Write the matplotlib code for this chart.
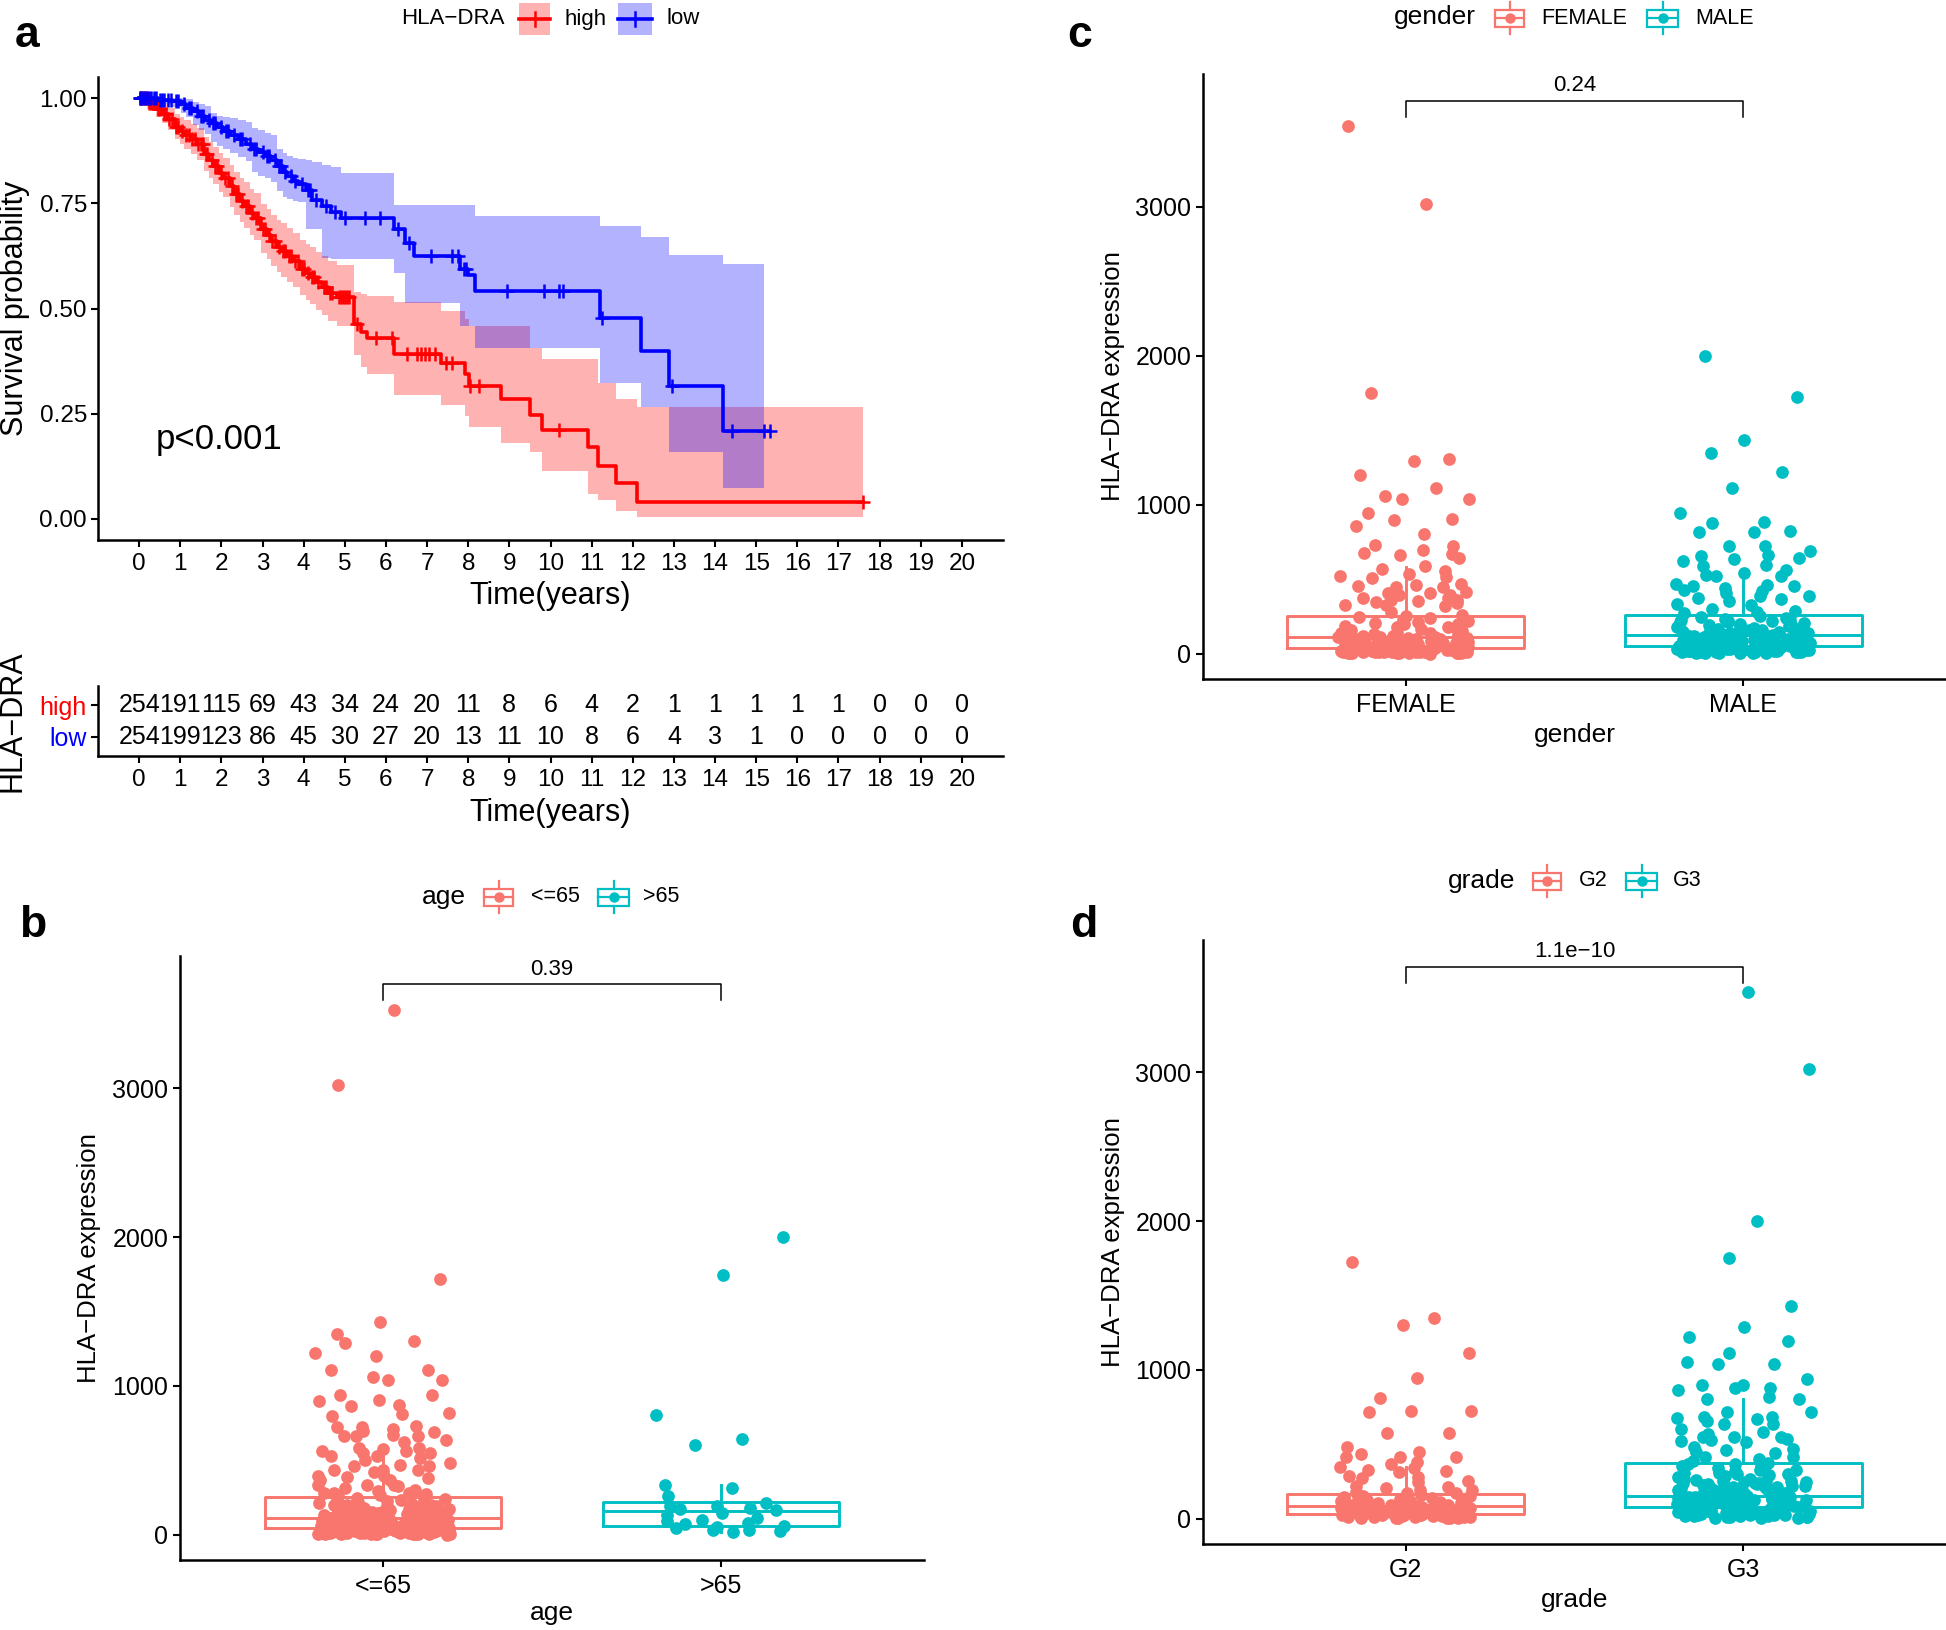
import numpy as np
import matplotlib
matplotlib.use("Agg")
import matplotlib.pyplot as plt
from matplotlib.patches import Rectangle

plt.rcParams["font.family"] = ["Liberation Sans", "DejaVu Sans"]

W, H = 1946, 1630
RED, BLUE = "#FF0000", "#0000FF"
SALMON, TEAL = "#F8766D", "#00BFC4"

# ---------------- panel a: Kaplan-Meier, HLA-DRA high / low ----------------
high_time = [0, 0.2, 0.4, 0.55, 0.7, 0.87, 1.0, 1.1, 1.25, 1.4, 1.57, 1.7,
             1.8, 1.95, 2.05, 2.2, 2.3, 2.45, 2.55, 2.7, 2.8, 2.97, 3.1, 3.2,
             3.35, 3.45, 3.6, 3.75, 3.9, 4.05, 4.15, 4.3, 4.45, 4.6, 4.8, 5.22,
             5.4, 5.53, 6.2, 7.35, 7.93, 8.02, 8.79, 9.49, 9.8, 10.9, 11.16, 11.6, 12.1]
high_surv = [1.0, 0.988, 0.974, 0.962, 0.950, 0.932, 0.922, 0.913, 0.902, 0.89, 0.866, 0.853,
             0.838, 0.822, 0.81, 0.79, 0.772, 0.756, 0.744, 0.728, 0.716, 0.688, 0.675, 0.66,
             0.645, 0.636, 0.625, 0.612, 0.594, 0.584, 0.575, 0.562, 0.552, 0.538, 0.528, 0.462,
             0.445, 0.43, 0.392, 0.37, 0.345, 0.317, 0.284, 0.247, 0.211, 0.172, 0.125, 0.085, 0.04]
high_ci_lo = [1.0, 0.975, 0.955, 0.94, 0.925, 0.903, 0.89, 0.879, 0.866, 0.852, 0.826, 0.811,
              0.795, 0.777, 0.764, 0.742, 0.722, 0.705, 0.692, 0.675, 0.662, 0.632, 0.618, 0.602,
              0.586, 0.576, 0.564, 0.55, 0.531, 0.52, 0.51, 0.496, 0.485, 0.47, 0.458, 0.39,
              0.36, 0.345, 0.295, 0.27, 0.245, 0.218, 0.18, 0.16, 0.115, 0.06, 0.045, 0.02, 0.004]
high_ci_up = [1.0, 1.0, 0.993, 0.985, 0.977, 0.962, 0.954, 0.947, 0.938, 0.928, 0.907, 0.895,
              0.884, 0.869, 0.858, 0.84, 0.824, 0.81, 0.8, 0.785, 0.774, 0.749, 0.737, 0.723,
              0.71, 0.702, 0.692, 0.68, 0.663, 0.654, 0.646, 0.634, 0.625, 0.612, 0.603, 0.54,
              0.535, 0.53, 0.515, 0.495, 0.475, 0.458, 0.458, 0.406, 0.38, 0.38, 0.322, 0.284, 0.267]
high_end = 17.6
high_band_end = 17.6
high_cens = [0.02, 0.05, 0.08, 0.12, 0.15, 0.18, 0.25, 0.3, 0.33, 0.38, 0.45, 0.5, 0.6, 0.65,
             0.72, 0.8, 0.9, 0.95, 1.05, 1.15, 1.2, 1.28, 1.35, 1.42, 1.5, 1.55, 1.62, 1.65,
             1.78, 1.85, 1.9, 2.0, 2.08, 2.15, 2.25, 2.35, 2.4, 2.5, 2.6, 2.65, 2.75, 2.85,
             2.9, 3.0, 3.05, 3.15, 3.22, 3.3, 3.4, 3.5, 3.55, 3.65, 3.7, 3.8, 3.85, 3.95,
             4.0, 4.1, 4.2, 4.25, 4.35, 4.5, 4.55, 4.65, 4.7, 4.85, 4.9, 4.95, 5.0, 5.05,
             5.1, 5.3, 5.75, 6.15, 6.5, 6.75, 6.85, 6.95, 7.05, 7.2, 7.45, 7.6, 8.05, 8.25,
             10.2, 17.6]

low_time = [0, 0.45, 0.8, 1.02, 1.15, 1.3, 1.45, 1.6, 1.75, 1.9, 2.05, 2.2,
            2.4, 2.6, 2.75, 2.9, 3.05, 3.2, 3.35, 3.5, 3.6, 3.75, 3.85, 4.05,
            4.2, 4.44, 4.67, 4.91, 6.2, 6.46, 6.69, 7.81, 8.0, 8.17, 11.2, 12.2,
            12.87, 14.19]
low_surv = [1.0, 0.995, 0.992, 0.986, 0.977, 0.969, 0.958, 0.948, 0.941, 0.932, 0.922, 0.913,
            0.903, 0.892, 0.88, 0.871, 0.862, 0.852, 0.838, 0.824, 0.814, 0.802, 0.795, 0.781,
            0.758, 0.744, 0.730, 0.716, 0.688, 0.655, 0.624, 0.594, 0.580, 0.542, 0.477, 0.399,
            0.317, 0.209]
low_ci_lo = [1.0, 0.985, 0.978, 0.965, 0.955, 0.935, 0.925, 0.915, 0.895, 0.885, 0.878, 0.87,
             0.86, 0.85, 0.825, 0.815, 0.81, 0.8, 0.78, 0.765, 0.76, 0.755, 0.753, 0.69,
             0.688, 0.62, 0.617, 0.617, 0.584, 0.514, 0.514, 0.458, 0.458, 0.406, 0.322, 0.267,
             0.159, 0.073]
low_ci_up = [1.0, 1.0, 1.0, 1.0, 0.998, 0.99, 0.985, 0.98, 0.965, 0.958, 0.955, 0.952,
             0.948, 0.942, 0.93, 0.925, 0.918, 0.912, 0.88, 0.87, 0.862, 0.858, 0.855, 0.852,
             0.848, 0.84, 0.836, 0.821, 0.746, 0.746, 0.746, 0.746, 0.746, 0.72, 0.697, 0.669,
             0.628, 0.605]
low_end = 15.34
low_band_end = 15.19
low_cens = [0.02, 0.05, 0.1, 0.15, 0.2, 0.25, 0.3, 0.35, 0.42, 0.5, 0.55, 0.6, 0.7, 0.78,
            0.9, 0.95, 1.1, 1.2, 1.25, 1.4, 1.5, 1.55, 1.7, 1.8, 1.85, 2.0, 2.1, 2.15, 2.3,
            2.45, 2.5, 2.7, 2.8, 2.85, 3.0, 3.1, 3.15, 3.3, 3.4, 3.45, 3.55, 3.7, 3.8, 3.95,
            4.1, 4.15, 4.3, 4.55, 4.75, 5.0, 5.5, 5.85, 6.3, 6.55, 7.1, 7.6, 7.75, 7.9, 7.95,
            8.95, 9.83, 10.2, 10.3, 11.25, 12.95, 14.4, 15.2, 15.34]

risk_years = [0, 1, 2, 3, 4, 5, 6, 7, 8, 9, 10, 11, 12, 13, 14, 15, 16, 17, 18, 19, 20]
risk_high = [254, 191, 115, 69, 43, 34, 24, 20, 11, 8, 6, 4, 2, 1, 1, 1, 1, 1, 0, 0, 0]
risk_low = [254, 199, 123, 86, 45, 30, 27, 20, 13, 11, 10, 8, 6, 4, 3, 1, 0, 0, 0, 0, 0]

# ---------------- panel c: gender ----------------
gender_cats = ["FEMALE", "MALE"]
female_expr = [3540, 3020, 1750, 1306, 1290, 1201, 1112, 1056, 1038, 1036, 944, 906, 899, 859,
               803, 727, 720, 694, 676, 669, 664, 642, 586, 568, 553, 537, 519, 512, 508, 470,
               463, 452, 450, 447, 412, 407, 407, 396, 391, 374, 374, 362, 362, 351, 344, 340,
               329, 329, 318, 280, 262,
               251, 243, 238, 229, 222, 214, 207, 201, 196, 188, 181, 176, 169, 163, 158, 151,
               147, 141, 136, 130, 126, 121, 117, 113, 110, 106, 102, 99, 96, 93, 89, 86, 83,
               80, 77, 74, 71, 68, 66, 63, 60, 57, 54, 52, 49, 47, 44, 42, 40, 38, 36, 34, 32,
               30, 28, 27, 25, 23, 21, 20, 18, 16, 15, 13, 12, 10, 9, 8, 6, 5, 4, 3, 2, 1, 74,
               58, 41, 29, 17, 11, 124, 97, 85, 66, 48, 35, 22, 14, 7, 3,
               3, 6, 9, 12, 14, 19, 24, 26, 31, 33, 37, 43, 46, 51, 55, 59, 62, 65, 69, 72,
               76, 81, 84, 88, 91, 94, 98, 104, 108, 111]
male_expr = [2000, 1723, 1432, 1347, 1219, 1110, 944, 881, 877, 826, 814, 814, 720, 720, 687,
             660, 653, 642, 635, 624, 597, 586, 564, 541, 530, 523, 519, 470, 459, 452, 452,
             441, 430, 418, 407, 385, 385, 374, 369, 351, 336, 329, 300, 284, 277, 273, 228,
             217, 210,
             256, 247, 241, 233, 226, 219, 212, 205, 199, 193, 187, 182, 176, 171, 165, 160,
             155, 150, 146, 141, 137, 133, 129, 126, 122, 119, 116, 112, 109, 106, 103, 100,
             97, 94, 91, 88, 85, 82, 79, 76, 74, 71, 68, 66, 63, 61, 58, 56, 53, 51, 49, 46,
             44, 42, 40, 38, 36, 34, 32, 30, 28, 26, 24, 22, 20, 18, 16, 14, 12, 10, 8, 6, 4,
             2, 135, 118, 95, 72, 57, 43, 31, 19, 9, 188, 162, 144, 128, 111, 92, 81, 67, 52,
             39, 27, 15, 5, 173, 152, 104, 60, 35, 11,
             4, 7, 13, 17, 21, 25, 29, 33, 37, 41, 45, 50, 54, 59, 64, 69, 73, 77, 83, 87,
             93, 98, 102, 108, 114, 121, 127, 139, 148, 158]
gender_q1 = [38, 54]
gender_med = [112, 128]
gender_q3 = [255, 260]
gender_whi = [580, 560]
gender_p = "0.24"

# ---------------- panel b: age ----------------
age_cats = ["<=65", ">65"]
young_expr = [3530, 3020, 1720, 1431, 1348, 1303, 1290, 1221, 1198, 1109, 1109, 1057, 1037,
              1037, 941, 936, 903, 896, 873, 862, 817, 811, 800, 728, 723, 723, 710, 694, 688,
              672, 661, 661, 661, 638, 620, 582, 580, 576, 560, 560, 549, 549, 531, 531, 515,
              504, 481, 470, 464, 464, 437, 432, 432, 419, 396, 392, 387, 381, 370, 370, 336,
              336, 336, 325, 314, 302, 291, 280, 280,
              278, 271, 266, 259, 253, 247, 242, 236, 231, 225, 220, 214, 209, 204, 199, 195,
              190, 186, 181, 177, 173, 169, 165, 161, 157, 153, 150, 146, 143, 139, 136, 133,
              130, 127, 124, 121, 118, 115, 112, 109, 107, 104, 101, 99, 96, 94, 91, 89, 86,
              84, 81, 79, 77, 75, 72, 70, 68, 66, 64, 62, 60, 58, 56, 54, 52, 50, 48, 46, 44,
              42, 40, 38, 37, 35, 33, 31, 30, 28, 26, 25, 23, 21, 20, 18, 17, 15, 14, 12, 11,
              9, 8, 6, 5, 3, 2, 1, 141, 122, 103, 88, 73, 61, 49, 36, 24, 13, 7, 4, 192, 167,
              155, 118, 97, 65, 45, 27, 16, 228, 203, 176, 134, 110, 93, 78, 57, 43, 32, 19,
              10, 6, 148, 126, 82, 51, 29,
              2, 5, 8, 11, 15, 18, 22, 26, 29, 34, 39, 42, 47, 53, 57, 61, 67, 71, 76, 80,
              85, 90, 95, 100, 105, 111, 116, 123, 131, 138, 144, 152, 160, 170, 183, 197]
old_expr = [2000, 1747, 808, 640, 605, 336, 314, 262, 213, 190, 190, 179, 172, 163, 146, 134,
            112, 96, 90, 78, 74, 56, 49, 45, 34, 29, 22, 16]
age_q1 = [45, 56]
age_med = [112, 157]
age_q3 = [253, 219]
age_whi = [560, 336]
age_p = "0.39"

# ---------------- panel d: grade ----------------
grade_cats = ["G2", "G3"]
g2_expr = [1724, 1350, 1305, 1112, 944, 812, 726, 722, 720, 578, 574, 484, 446, 435, 413, 413,
           413, 379, 368, 345, 340, 327, 323, 312, 289, 278, 271, 256, 244, 222, 215, 205, 195,
           190, 180,
           176, 171, 166, 161, 156, 152, 147, 143, 139, 135, 131, 127, 123, 120, 116, 113, 109,
           106, 103, 100, 97, 94, 91, 88, 86, 83, 80, 78, 75, 73, 70, 68, 65, 63, 61, 58, 56,
           54, 52, 50, 48, 46, 44, 42, 40, 38, 36, 34, 32, 30, 28, 26, 24, 22, 20, 18, 16, 14,
           12, 10, 8, 6, 4, 2, 92, 71, 55, 37, 21, 9, 118, 84, 62, 45, 27, 13,
           3, 7, 11, 15, 19, 23, 29, 33, 39, 44, 49, 53, 59, 64, 69, 74, 79, 85, 90, 96]
g3_expr = [3540, 3020, 2004, 1751, 1433, 1291, 1220, 1197, 1112, 1056, 1040, 1040, 939, 901,
           901, 879, 879, 865, 821, 805, 805, 720, 715, 682, 682, 677, 670, 659, 637, 637, 603,
           581, 570, 552, 547, 547, 536, 529, 525, 513, 480, 469, 462, 446, 439, 417, 413, 401,
           390, 372, 368, 357, 327, 305, 300, 300, 283, 256, 256, 244, 238, 233, 215, 188,
           366, 352, 341, 329, 318, 308, 297, 287, 278, 270, 262, 253, 246, 239, 232, 225, 219,
           213, 207, 201, 196, 191, 186, 181, 176, 172, 168, 164, 160, 156, 152, 148, 145, 141,
           138, 135, 131, 128, 125, 122, 119, 116, 113, 110, 107, 104, 101, 98, 95, 92, 89, 86,
           83, 80, 77, 74, 71, 68, 65, 62, 59, 56, 53, 50, 47, 44, 41, 38, 35, 32, 29, 26, 23,
           20, 17, 14, 11, 8, 5, 2, 171, 149, 133, 118, 102, 87, 72, 54, 36, 18, 210, 190, 158,
           127, 96, 63, 31, 142, 121, 99, 84, 66, 48, 27, 12,
           9, 16, 24, 34, 43, 52, 61, 70, 79, 88, 97, 106, 115, 124, 134, 143, 151, 162, 174,
           185, 198, 221, 243, 267]
grade_q1 = [31, 81]
grade_med = [87, 155]
grade_q3 = [166, 372]
grade_whi = [345, 805]
grade_p = "1.1e\u221210"

fig = plt.figure(figsize=(W / 100, H / 100), dpi=100)


def px_axes(left, top, right, bottom):
    return fig.add_axes([left / W, 1 - bottom / H, (right - left) / W, (bottom - top) / H])


def style_axes(ax):
    for side in ("top", "right"):
        ax.spines[side].set_visible(False)
    for side in ("left", "bottom"):
        ax.spines[side].set_linewidth(1.8)
    ax.tick_params(length=5, width=1.5, labelsize=17.5, color="black")


def km_curve(ax, t, s, lo, up, end, band_end, cens, color):
    t = np.asarray(t)
    s = np.asarray(s)
    ax.fill_between(np.append(t, band_end), np.append(lo, lo[-1]), np.append(up, up[-1]),
                    step="post", color=color, alpha=0.3, lw=0)
    ax.step(np.append(t, end), np.append(s, s[-1]), where="post", color=color, lw=2.6)
    idx = np.searchsorted(t, cens, side="right") - 1
    ax.plot(cens, s[idx], ls="none", marker="+", ms=10, mew=1.8, color=color)


# KM curves
ax = px_axes(98, 77, 1003, 540)
style_axes(ax)
km_curve(ax, high_time, high_surv, high_ci_lo, high_ci_up, high_end, high_band_end, high_cens, RED)
km_curve(ax, low_time, low_surv, low_ci_lo, low_ci_up, low_end, low_band_end, low_cens, BLUE)
ax.set_xlim(-1, 21)
ax.set_ylim(-0.05, 1.05)
ax.set_xticks(risk_years)
ax.set_yticks([0, 0.25, 0.5, 0.75, 1.0])
ax.set_yticklabels(["0.00", "0.25", "0.50", "0.75", "1.00"])
ax.tick_params(axis="x", pad=4)
ax.tick_params(axis="y", pad=3)
ax.set_xlabel("Time(years)", fontsize=22, va="center")
ax.xaxis.set_label_coords(0.5, -0.121)
ax.set_ylabel("Survival probability", fontsize=22, va="center")
ax.yaxis.set_label_coords(-0.0917, 0.5)
ax.text(0.4, 0.167, "p<0.001", fontsize=25, va="baseline")

# risk table
axr = px_axes(98, 686, 1003, 756)
style_axes(axr)
for yr, n_hi, n_lo in zip(risk_years, risk_high, risk_low):
    axr.text(yr, 2, str(n_hi), ha="center", va="center", fontsize=18)
    axr.text(yr, 1, str(n_lo), ha="center", va="center", fontsize=18)
axr.set_xlim(-1, 21)
axr.set_ylim(0.4, 2.6)
axr.set_xticks(risk_years)
axr.set_yticks([1, 2])
axr.set_yticklabels(["low", "high"], fontsize=18)
for lab, col in zip(axr.get_yticklabels(), [BLUE, RED]):
    lab.set_color(col)
axr.tick_params(axis="x", pad=4)
axr.tick_params(axis="y", pad=3)
axr.set_xlabel("Time(years)", fontsize=22, va="center")
axr.xaxis.set_label_coords(0.5, -0.814)
axr.set_ylabel("HLA\u2212DRA", fontsize=22, va="center")
axr.yaxis.set_label_coords(-0.094, 0.5)


def jitter(n, seed):
    # fixed spread of x offsets in [-0.2, 0.2] (ggpubr jitter width):
    # golden-ratio sequence with a small hash wobble to break up the lattice
    i = np.arange(1, n + 1)
    wobble = (np.sin(i * 12.9898 + seed * 78.233) * 43758.5453) % 1.0
    u = (i * 0.6180339887 + seed * 0.29 + 0.22 * wobble) % 1.0
    return 0.4 * (u - 0.5)


def box_panel(rect, cats, groups, q1, med, q3, whi, pval, xlabel, ylab_x, xlab_y, seed):
    ax = px_axes(*rect)
    style_axes(ax)
    for k, (vals, col) in enumerate(zip(groups, [SALMON, TEAL])):
        pos = k + 1
        stats = [dict(med=med[k], q1=q1[k], q3=q3[k], whislo=min(vals), whishi=whi[k], fliers=[])]
        props = dict(color=col, linewidth=2.1)
        ax.bxp(stats, positions=[pos], widths=0.7, showcaps=False, showfliers=False,
               boxprops=props, whiskerprops=props, medianprops=props,
               manage_ticks=False, zorder=2)
        ax.scatter(pos + jitter(len(vals), seed + k), vals, s=84, color=col, lw=0, zorder=3)
    top = max(max(g) for g in groups)
    y_br = top * 1.048
    ax.plot([1, 1, 2, 2], [y_br - 107, y_br, y_br, y_br - 107], color="black", lw=1.1)
    ax.text(1.5, y_br + 100, pval, ha="center", va="center", fontsize=16)
    ax.set_xlim(0.4, 2.6)
    ax.set_ylim(-170, 3890)
    ax.set_xticks([1, 2])
    ax.set_xticklabels(cats)
    ax.set_yticks([0, 1000, 2000, 3000])
    ax.tick_params(axis="x", labelsize=18, pad=5)
    ax.tick_params(axis="y", labelsize=18, pad=3.5)
    ax.set_xlabel(xlabel, fontsize=19, va="center")
    ax.xaxis.set_label_coords(0.5, xlab_y)
    ax.set_ylabel("HLA\u2212DRA expression", fontsize=18.5, va="center")
    ax.yaxis.set_label_coords(ylab_x, 0.5)
    return ax


box_panel((1203, 74, 1946, 679), gender_cats, [female_expr, male_expr],
          gender_q1, gender_med, gender_q3, gender_whi, gender_p, "gender", -0.121, -0.0926, 1)
box_panel((180, 956, 924, 1560), age_cats, [young_expr, old_expr],
          age_q1, age_med, age_q3, age_whi, age_p, "age", -0.122, -0.0877, 3)
box_panel((1203, 940, 1946, 1544), grade_cats, [g2_expr, g3_expr],
          grade_q1, grade_med, grade_q3, grade_whi, grade_p, "grade", -0.121, -0.0927, 5)

# overlay in pixel units for panel letters and legends
ov = fig.add_axes([0, 0, 1, 1])
ov.set_xlim(0, W)
ov.set_ylim(H, 0)
ov.set_axis_off()

for letter, x, y in [("a", 15, 47), ("b", 19, 937), ("c", 1067, 47), ("d", 1070, 937)]:
    ov.text(x, y, letter, fontsize=32, fontweight="bold", va="baseline", ha="left")


def box_key(x0, x1, yc, col):
    xm = (x0 + x1) / 2
    ov.add_patch(Rectangle((x0, yc - 8.5), x1 - x0, 17, fill=False, ec=col, lw=1.6))
    ov.plot([xm, xm], [yc - 16, yc - 8.5], color=col, lw=1.6)
    ov.plot([xm, xm], [yc + 8.5, yc + 16], color=col, lw=1.6)
    ov.plot([x0, x1], [yc, yc], color=col, lw=1.6)
    ov.plot([xm], [yc], marker="o", ms=6.5, color=col)


def km_key(x0, x1, yc, col):
    xm = (x0 + x1) / 2
    ov.add_patch(Rectangle((x0, yc - 16), x1 - x0, 32, color=col, alpha=0.3, lw=0))
    ov.plot([x0, x1], [yc, yc], color=col, lw=2.6)
    ov.plot([xm, xm], [yc - 7, yc + 7], color=col, lw=1.8)


# legend a
ov.text(401, 19, "HLA\u2212DRA", fontsize=16, va="center")
km_key(519, 550, 19, RED)
ov.text(565, 19, "high", fontsize=16, va="center")
km_key(618, 652, 19, BLUE)
ov.text(666, 19, "low", fontsize=16, va="center")

# legend c
ov.text(1394, 17, "gender", fontsize=19, va="center")
box_key(1495, 1524, 18, SALMON)
ov.text(1541, 18, gender_cats[0], fontsize=15.5, va="center")
box_key(1647, 1678, 18, TEAL)
ov.text(1695, 18, gender_cats[1], fontsize=15.5, va="center")

# legend b
ov.text(422, 897, "age", fontsize=19, va="center")
box_key(484, 513, 897, SALMON)
ov.text(531, 897, age_cats[0], fontsize=15.5, va="center")
box_key(598, 629, 897, TEAL)
ov.text(643, 897, age_cats[1], fontsize=15.5, va="center")

# legend d
ov.text(1448, 881, "grade", fontsize=19, va="center")
box_key(1533, 1561, 881, SALMON)
ov.text(1579, 881, grade_cats[0], fontsize=15.5, va="center")
box_key(1626, 1657, 881, TEAL)
ov.text(1673, 881, grade_cats[1], fontsize=15.5, va="center")

fig.savefig("out.png", dpi=100)
